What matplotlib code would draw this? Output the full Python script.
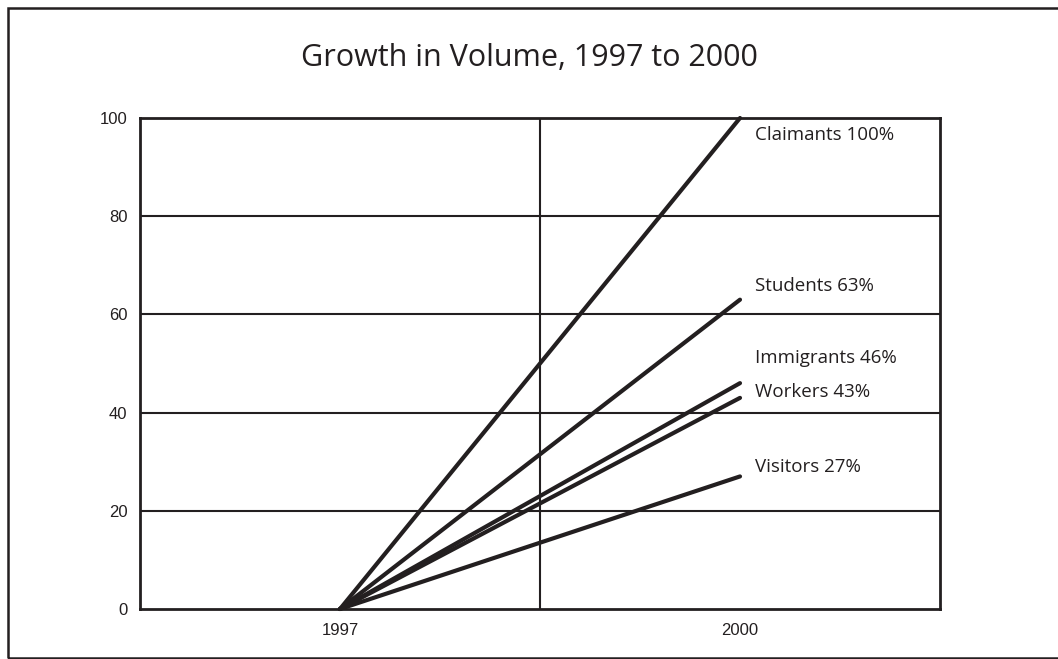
import matplotlib
matplotlib.use("Agg")
import matplotlib.pyplot as plt
from matplotlib.patches import Rectangle

# Data
years = ["1997", "2000"]
series = ["Claimants", "Students", "Immigrants", "Workers", "Visitors"]
growth = [100, 63, 46, 43, 27]          # percent growth by 2000
start = [0, 0, 0, 0, 0]                 # baseline in 1997
label_nudge_pts = [-12, 10, 18, 4, 7]   # vertical nudge of end labels (points)

INK = "#231f20"

fig = plt.figure(figsize=(10.58, 6.59), dpi=100)
ax = fig.add_axes([140 / 1058, 1 - 609 / 659, 800 / 1058, 491 / 659])

# Category positions along the x axis
xpos = [1, 3]
ax.set_xlim(0, 4)
ax.set_ylim(0, 100)

# Grid: horizontal lines every 20, one vertical divider in the middle
for y in range(20, 100, 20):
    ax.axhline(y, color=INK, lw=1.5, zorder=1)
ax.axvline(2, color=INK, lw=1.5, zorder=1)

for name, s, g, dy in zip(series, start, growth, label_nudge_pts):
    ax.plot(xpos, [s, g], color=INK, lw=3.0, solid_capstyle="round", zorder=3,
            clip_on=False)
    ax.annotate(f"{name} {g}%", xy=(xpos[1], g), xytext=(11, dy),
                textcoords="offset points", ha="left", va="center",
                fontsize=13.5, family="Open Sans", color=INK)

ax.set_xticks(xpos)
ax.set_xticklabels(years)
ax.set_yticks(range(0, 101, 20))
ax.tick_params(length=0, labelsize=12, colors=INK)
ax.tick_params(axis="y", pad=9)
ax.tick_params(axis="x", pad=10)
for lab in ax.get_xticklabels() + ax.get_yticklabels():
    lab.set_family("Liberation Sans")

for sp in ax.spines.values():
    sp.set_color(INK)
    sp.set_linewidth(2.0)

fig.text(529 / 1058, 1 - 58 / 659, "Growth in Volume, 1997 to 2000",
         ha="center", va="center", fontsize=22, family="Open Sans",
         color=INK)

# Outer frame (open on the right, running past the edge)
fig.add_artist(Rectangle((7.5 / 1058, 0.8 / 659), 1.2, 1 - 8.3 / 659,
                         transform=fig.transFigure, fill=False,
                         edgecolor=INK, lw=1.8, clip_on=False))

fig.savefig("out.png", dpi=100)
